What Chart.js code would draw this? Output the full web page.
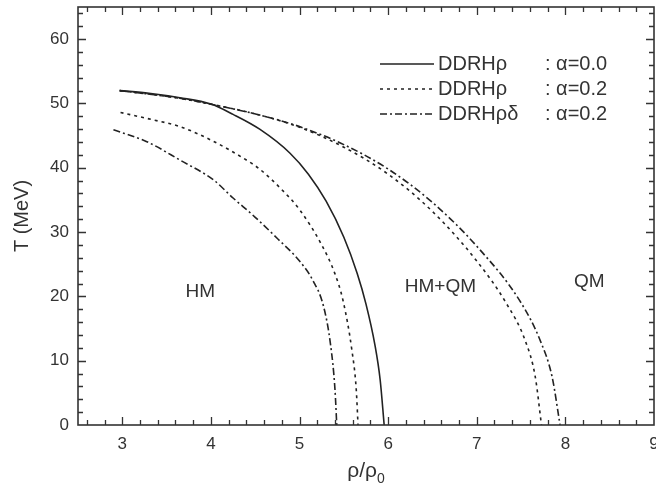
<!DOCTYPE html>
<html>
<head>
<meta charset="utf-8">
<script src="https://cdn.jsdelivr.net/npm/chart.js@4.4.0/dist/chart.umd.min.js"></script>
<style>
  html, body { margin: 0; padding: 0; background: #fff; }
  #wrap { width: 656px; height: 493px; }
</style>
</head>
<body>
<div id="wrap"><canvas id="myChart" width="656" height="493"></canvas></div>
<script>
// phase boundaries, T (MeV) against rho/rho0
let rhoSolid = [2.97, 3.3, 3.65, 4.0, 4.25, 4.55, 4.89, 5.1, 5.3, 5.5, 5.65, 5.75, 5.85, 5.91, 5.955];
let tSolid   = [52.0, 51.6, 50.9, 49.9, 48.3, 46.0, 42.3, 39.0, 34.8, 29.2, 23.6, 18.8, 12.5, 7.0, 0];

let rhoDotLow = [2.98, 3.3, 3.65, 4.03, 4.4, 4.55, 4.8, 5.0, 5.25, 5.4, 5.49, 5.59, 5.64, 5.66];
let tDotLow   = [48.6, 47.6, 46.4, 44.1, 41.2, 39.8, 36.6, 33.5, 28.0, 23.5, 19.4, 11.7, 5.5, 0];
let rhoDotHigh = [2.97, 3.65, 4.03, 4.55, 5.0, 5.5, 6.0, 6.5, 7.0, 7.33, 7.55, 7.66, 7.73];
let tDotHigh   = [52.0, 50.8, 49.8, 48.2, 46.3, 43.2, 39.0, 33.2, 25.5, 19.0, 13.0, 7.5, 0];

let rhoDashLow = [2.9, 3.27, 3.65, 4.03, 4.25, 4.5, 4.75, 5.0, 5.15, 5.27, 5.35, 5.40, 5.42];
let tDashLow   = [45.9, 44.1, 41.2, 38.1, 35.3, 32.3, 29.0, 25.5, 22.5, 18.5, 12.5, 5.5, 0];
let rhoDashHigh = [2.97, 3.65, 4.03, 4.55, 5.0, 5.5, 6.0, 6.5, 7.0, 7.5, 7.72, 7.85, 7.94];
let tDashHigh   = [52.0, 50.8, 49.8, 48.2, 46.4, 43.6, 39.8, 34.6, 27.8, 19.0, 13.0, 7.5, 0];

let xTicks = [3, 4, 5, 6, 7, 8, 9];
let yTicks = [0, 10, 20, 30, 40, 50, 60];

let legendNames = ['DDRH\u03c1', 'DDRH\u03c1', 'DDRH\u03c1\u03b4'];
let legendAlpha = [': \u03b1=0.0', ': \u03b1=0.2', ': \u03b1=0.2'];
let regionNames = ['HM', 'HM+QM', 'QM'];
let regionRho = [3.88, 6.59, 8.27];
let regionT = [20.7, 21.5, 22.2];

let ink = '#222';
let dotDash = [3, 4];
let dashDot = [7, 3, 2, 3];
let lineStyles = [[], dotDash, dashDot];

function pts(xs, ys) {
  return xs.map((x, i) => ({ x: x, y: ys[i] }));
}

function curve(xs, ys, dash) {
  return {
    data: pts(xs, ys),
    showLine: true,
    borderColor: ink,
    borderWidth: 1.6,
    borderDash: dash,
    pointRadius: 0,
    fill: false,
    cubicInterpolationMode: 'monotone'
  };
}

let font = "'Liberation Sans', Arial, sans-serif";

function noPad(s) {
  s.paddingTop = 0; s.paddingBottom = 0;
  s.paddingLeft = 0; s.paddingRight = 0;
}

// frame, inward ticks, titles, region names and legend
let decor = {
  id: 'decor',
  afterDraw(chart) {
    let c = chart.ctx;
    let a = chart.chartArea;
    let xs = chart.scales.x, ys = chart.scales.y;
    c.save();
    c.strokeStyle = '#333';
    c.lineWidth = 1.6;
    c.strokeRect(a.left, a.top, a.right - a.left, a.bottom - a.top);

    c.lineWidth = 1.3;
    c.beginPath();
    for (let v = 2.6; v < 9; v += 0.2) {
      let x = Math.round(xs.getPixelForValue(v)) + 0.5;
      let major = Math.abs(v - Math.round(v)) < 0.01;
      let len = major ? 8 : 5;
      c.moveTo(x, a.bottom); c.lineTo(x, a.bottom - len);
      c.moveTo(x, a.top); c.lineTo(x, a.top + len);
    }
    for (let v = 2; v < 65; v += 2) {
      let y = Math.round(ys.getPixelForValue(v)) + 0.5;
      let len = v % 10 === 0 ? 8 : 5;
      c.moveTo(a.left, y); c.lineTo(a.left + len, y);
      c.moveTo(a.right, y); c.lineTo(a.right - len, y);
    }
    c.stroke();

    c.fillStyle = '#333';
    c.textBaseline = 'middle';
    c.textAlign = 'center';
    c.font = '19px ' + font;
    regionNames.forEach((n, i) => {
      c.fillText(n, xs.getPixelForValue(regionRho[i]), ys.getPixelForValue(regionT[i]));
    });

    // axis titles
    c.font = '21px ' + font;
    let cx = (a.left + a.right) / 2;
    c.textAlign = 'left';
    let w1 = c.measureText('\u03c1/\u03c1').width;
    c.font = '14px ' + font;
    let w2 = c.measureText('0').width;
    let x0 = cx - (w1 + w2) / 2;
    c.font = '21px ' + font;
    c.fillText('\u03c1/\u03c1', x0, 471);
    c.font = '14px ' + font;
    c.fillText('0', x0 + w1, 479);

    c.save();
    c.translate(22, (a.top + a.bottom) / 2);
    c.rotate(-Math.PI / 2);
    c.textAlign = 'center';
    c.font = '20px ' + font;
    c.fillText('T (MeV)', 0, 0);
    c.restore();

    // legend
    c.font = '20px ' + font;
    c.textAlign = 'left';
    c.lineWidth = 1.6;
    c.strokeStyle = ink;
    legendNames.forEach((n, i) => {
      let y = 64 + i * 25;
      c.setLineDash(lineStyles[i]);
      c.beginPath();
      c.moveTo(380, y); c.lineTo(434, y);
      c.stroke();
      c.setLineDash([]);
      c.fillText(n, 438, y);
      c.fillText(legendAlpha[i], 545, y);
    });
    c.restore();
  }
};

let myChart = document.getElementById('myChart').getContext('2d');
let chart = new Chart(myChart, {
  type: 'scatter',
  data: {
    datasets: [
      curve(rhoSolid, tSolid, []),
      curve(rhoDotLow, tDotLow, dotDash),
      curve(rhoDotHigh, tDotHigh, dotDash),
      curve(rhoDashLow, tDashLow, dashDot),
      curve(rhoDashHigh, tDashHigh, dashDot)
    ]
  },
  options: {
    responsive: false,
    animation: false,
    layout: { padding: { top: 7, right: 2, left: 0, bottom: 0 } },
    plugins: {
      legend: { display: false },
      tooltip: { enabled: false }
    },
    scales: {
      x: {
        type: 'linear',
        min: 2.5,
        max: 9,
        afterBuildTicks: s => { s.ticks = xTicks.map(v => ({ value: v })); },
        afterFit: s => { s.height = 68; noPad(s); },
        grid: { display: false, drawTicks: false },
        border: { display: false },
        ticks: { padding: 9, color: '#333', font: { size: 17, family: font } }
      },
      y: {
        type: 'linear',
        min: 0,
        max: 65,
        afterBuildTicks: s => { s.ticks = yTicks.map(v => ({ value: v })); },
        afterFit: s => { s.width = 78; noPad(s); },
        grid: { display: false, drawTicks: false },
        border: { display: false },
        ticks: { padding: 9, color: '#333', font: { size: 17, family: font } }
      }
    }
  },
  plugins: [decor]
});
</script>
</body>
</html>
